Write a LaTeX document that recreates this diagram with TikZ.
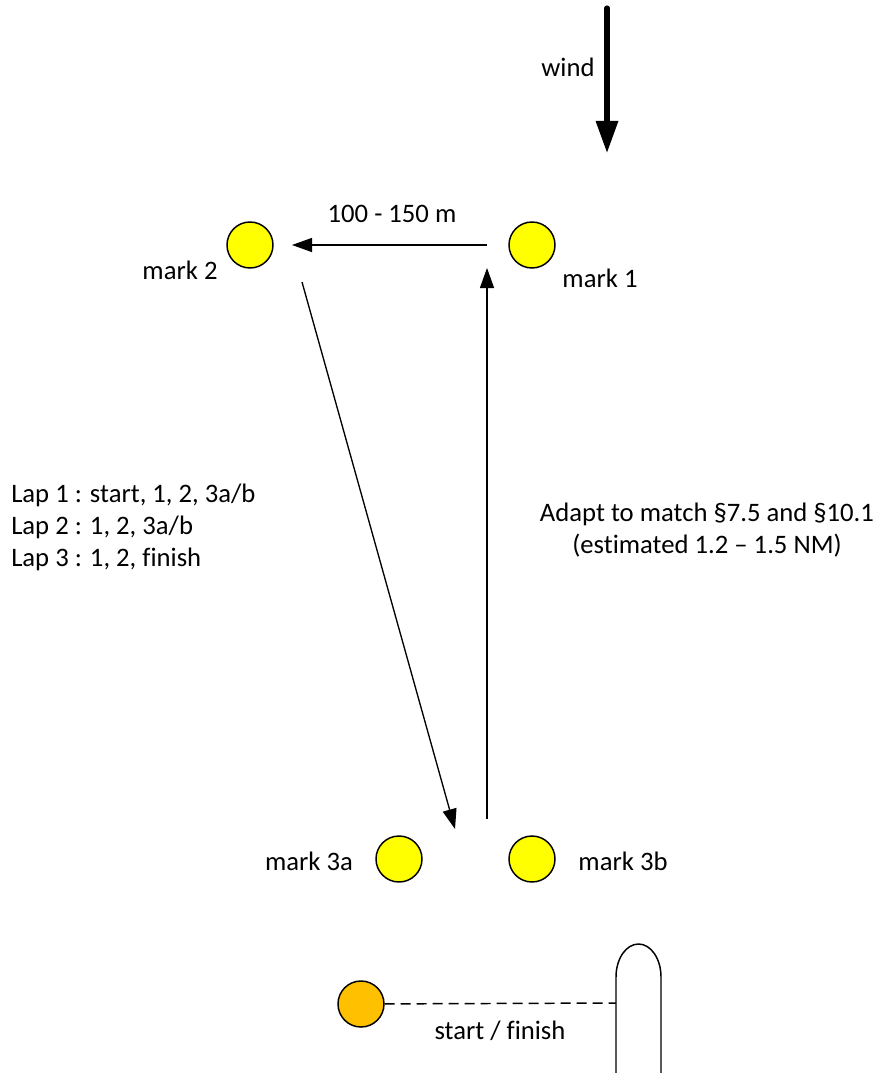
\documentclass[tikz,border=0pt]{standalone}
\usepackage{fontspec}
\setmainfont{Carlito}[Ligatures=CommonOff]
\usetikzlibrary{arrows.meta}
\definecolor{markyellow}{HTML}{FFFF00}
\definecolor{startorange}{HTML}{FFC000}
\begin{document}
\begin{tikzpicture}[x=0.75pt,y=-0.75pt,
  every node/.style={font=\fontsize{20pt}{24pt}\selectfont, inner sep=0pt},
  buoy/.style={circle, draw, line width=1.1pt, minimum size=34.5pt, inner sep=0pt},
  course/.style={line width=1pt, -{Triangle[length=15pt,width=10.5pt]}},
  lbl/.style={anchor=center}]
\useasboundingbox (0,0) rectangle (882,1073);
% wind
\coordinate (w1) at (607,8);
\coordinate (w2) at (607,153);
\draw[line width=3.8pt, line cap=round, -{Triangle[length=24pt,width=16pt]}] (w1) -- (w2);
\node[lbl] (wind) at (568,67) {wind};
% marks
\node[buoy, fill=markyellow] (m2) at (250,245) {};
\node[buoy, fill=markyellow] (m1) at (532,245) {};
\node[buoy, fill=markyellow] (m3a) at (399,859) {};
\node[buoy, fill=markyellow] (m3b) at (532,859) {};
\node[buoy, fill=startorange] (st) at (361,1004) {};
\node[lbl] (l2) at (180,270) {mark 2};
\node[lbl] (l1) at (600,278) {mark 1};
\node[lbl] (l3a) at (309,861) {mark 3a};
\node[lbl] (l3b) at (623,861) {mark 3b};
% course legs
\coordinate (a1) at (487,245);
\coordinate (a2) at (292,245);
\draw[course] (a1) -- (a2);
\node[lbl] (dist) at (392,214) {100 - 150 m};
\coordinate (b1) at (302,282);
\coordinate (b2) at (455,829);
\draw[course] (b1) -- (b2);
\coordinate (c1) at (487,819);
\coordinate (c2) at (487,268);
\draw[course] (c1) -- (c2);
% texts
\node[anchor=west, align=left, font=\fontsize{20pt}{24pt}\selectfont] (laps) at (11,527)
  {Lap 1 : start, 1, 2, 3a/b\\Lap 2 : 1, 2, 3a/b\\Lap 3 : 1, 2, finish};
\node[align=center, font=\fontsize{20pt}{23.5pt}\selectfont] (adapt) at (707,530)
  {Adapt to match §7.5 and §10.1\\(estimated 1.2 -- 1.5 NM)};
% committee boat
\coordinate (p1) at (616,1073);
\coordinate (p2) at (661,1073);
\draw[line width=1.1pt] (p1) -- (616,977) arc[start angle=180, end angle=0, x radius=16.875pt, y radius=24.75pt] -- (p2);
\coordinate (sl) at (616,1003);
\draw[line width=1.1pt, dash pattern=on 7.5pt off 4.5pt] (st) -- (sl);
\node[lbl] (sf) at (500,1031) {start / finish};
\end{tikzpicture}
\end{document}
